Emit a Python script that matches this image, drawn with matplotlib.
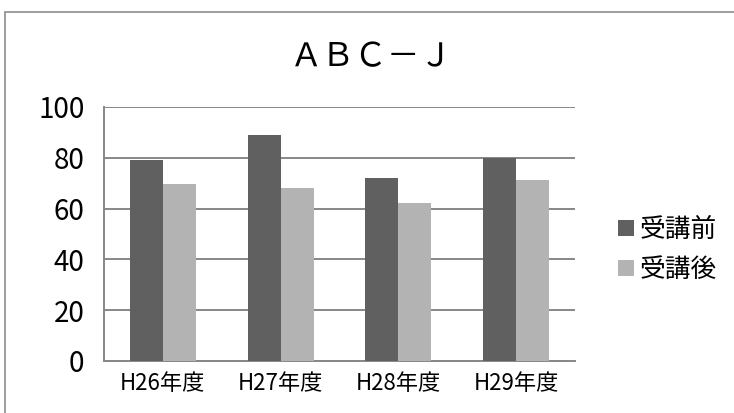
import matplotlib
matplotlib.use('Agg')
import matplotlib.pyplot as plt
import numpy as np
from matplotlib.patches import Patch, Rectangle

plt.rcParams['font.family'] = ['Noto Sans CJK JP', 'DejaVu Sans']

# --- data ---
title = 'ＡＢＣ－Ｊ'
categories = ['H26年度', 'H27年度', 'H28年度', 'H29年度']
series_names = ['受講前', '受講後']
before = [79, 89, 72, 80]
after = [69.7, 68.3, 62.3, 71.4]
yticks = [0, 20, 40, 60, 80, 100]

colors = ['#606060', '#b3b3b3']
grid_color = '#878787'

fig = plt.figure(figsize=(7.34, 4.13), dpi=100)
ax = fig.add_axes([104 / 734, 1 - 361 / 413, 471 / 734, 254 / 413])

x = np.arange(len(categories))
w = 0.28
ax.bar(x - w / 2, before, width=w, color=colors[0], zorder=3)
ax.bar(x + w / 2, after, width=w, color=colors[1], zorder=3)

ax.set_xlim(-0.5, len(categories) - 0.5)
ax.set_ylim(0, 100)
ax.set_yticks(yticks)
ax.set_xticks(x)
ax.set_xticklabels(categories, fontsize=16)
ax.tick_params(axis='y', labelsize=20, length=0, pad=14)
ax.tick_params(axis='x', length=0, pad=8)
ax.yaxis.grid(True, color=grid_color, linewidth=1.4, zorder=0)

for side in ['top', 'right']:
    ax.spines[side].set_visible(False)
for side in ['left', 'bottom']:
    ax.spines[side].set_color(grid_color)
    ax.spines[side].set_linewidth(1.4)

fig.text(371 / 734, 1 - 57 / 413, title, fontsize=23.5, ha='center', va='center')

handles = [Patch(facecolor=c, edgecolor='none', label=n) for c, n in zip(colors, series_names)]
fig.legend(handles=handles, loc='center left', bbox_to_anchor=(595 / 734, 1 - 250 / 413),
           frameon=False, fontsize=18.5, handlelength=0.62, handleheight=0.62,
           handletextpad=0.2, labelspacing=0.55)

# outer chart border
fig.patches.append(Rectangle((5 / 734, -0.1), 1.2, 1.1 - 12 / 413, transform=fig.transFigure,
                             fill=False, edgecolor='#8c8c8c', linewidth=1.2))

fig.savefig('out.png', dpi=100)
